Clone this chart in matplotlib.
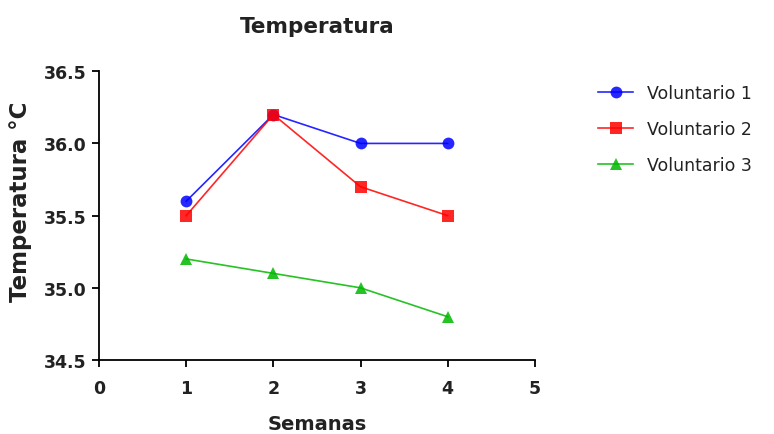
import matplotlib
matplotlib.use("Agg")
import matplotlib.pyplot as plt

plt.rcParams['font.family'] = ['DejaVu Sans']

semanas = [1, 2, 3, 4]
voluntario1 = [35.6, 36.2, 36.0, 36.0]
voluntario2 = [35.5, 36.2, 35.7, 35.5]
voluntario3 = [35.2, 35.1, 35.0, 34.8]
labels = ["Voluntario 1", "Voluntario 2", "Voluntario 3"]
colors = ["#0000FF", "#FF0000", "#00B800"]
markers = ["o", "s", "^"]
x_ticks = [0, 1, 2, 3, 4, 5]
y_ticks = [34.5, 35.0, 35.5, 36.0, 36.5]

fig = plt.figure(figsize=(7.74, 4.35), dpi=100)
ax = fig.add_axes([0.128, 0.170, 0.563, 0.664])

for vals, lab, c, m in zip([voluntario1, voluntario2, voluntario3], labels, colors, markers):
    ax.plot(semanas, vals, color=c, marker=m, markersize=8.5, linewidth=1.2,
            label=lab, alpha=0.85, markeredgewidth=0, clip_on=False)

ax.set_xlim(0, 5)
ax.set_ylim(34.5, 36.5)
ax.set_xticks(x_ticks)
ax.set_yticks(y_ticks)
ax.set_yticklabels([f"{v:.1f}" for v in y_ticks])
for s in ["top", "right"]:
    ax.spines[s].set_visible(False)
for s in ["left", "bottom"]:
    ax.spines[s].set_linewidth(1.3)
ax.tick_params(axis="both", length=5, width=1.3, labelsize=12.5, direction="out")
ax.tick_params(axis="x", pad=9)
ax.tick_params(axis="y", pad=4)
for t in ax.get_xticklabels() + ax.get_yticklabels():
    t.set_fontweight("bold")
    t.set_color("#222222")

ax.set_xlabel("Semanas", fontsize=14, fontweight="bold", labelpad=12, color="#222222")
ax.set_ylabel("Temperatura °C", fontsize=16.5, fontweight="bold", labelpad=6, color="#222222")
ax.yaxis.set_label_coords(-0.155, 0.55)
ax.set_title("Temperatura", fontsize=15.5, fontweight="bold", pad=28, color="#222222")

leg = ax.legend(loc="upper left", bbox_to_anchor=(1.11, 1.01), frameon=False,
                fontsize=12.5, handlelength=2.0, labelspacing=1.05, handletextpad=0.8)
for t in leg.get_texts():
    t.set_color("#222222")

fig.savefig("out.png", dpi=100)
